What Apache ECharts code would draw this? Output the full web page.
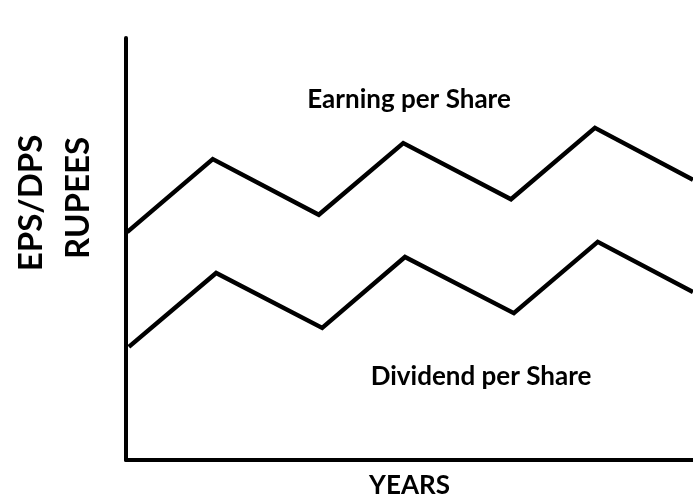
<!DOCTYPE html>
<html>
<head>
<meta charset="utf-8">
<title>EPS / DPS over the years</title>
<script src="https://cdn.jsdelivr.net/npm/echarts@6/dist/echarts.min.js"></script>
<style>
  html, body { margin: 0; padding: 0; background: #ffffff; }
  #chart { width: 693px; height: 500px; }
</style>
</head>
<body>
<div id="chart"></div>
<script>
// Position of each year along the time axis (0 = first year, 100 = last shown)
const epsYears = [0.2, 15.3, 34.0, 48.9, 67.9, 82.7, 100];
const dpsYears = [0.5, 15.9, 34.6, 49.2, 68.4, 83.2, 100];

// Earning per share and dividend per share, in rupees (relative scale)
const epsValues = [54.0, 71.3, 58.1, 75.1, 61.8, 78.7, 66.4];
const dpsValues = [26.8, 44.3, 31.3, 48.1, 34.8, 51.7, 39.8];

// Text drawn on the chart
const seriesNames = ['Earning per Share', 'Dividend per Share'];
const yAxisTitle = ['EPS/DPS', 'RUPEES'];
const xAxisTitle = 'YEARS';

const FONT = 'Lato, "Open Sans", sans-serif';

function pairs(xs, ys) {
  return xs.map((x, i) => [x, ys[i]]);
}

const lineStyle = { color: '#000000', width: 4.5, join: 'miter', cap: 'butt' };

const chart = echarts.init(document.getElementById('chart'), null, { renderer: 'canvas' });

chart.setOption({
  backgroundColor: '#ffffff',
  animation: false,
  grid: { left: 126, right: 0, top: 38, bottom: 40, containLabel: false, outerBoundsMode: 'none' },
  xAxis: {
    type: 'value',
    min: 0,
    max: 100,
    name: xAxisTitle,
    nameLocation: 'middle',
    nameGap: 13,
    nameTextStyle: { color: '#000000', fontFamily: FONT, fontWeight: 'bold', fontSize: 26, verticalAlign: 'top' },
    axisLine: { show: true, onZero: false, lineStyle: { color: '#000000', width: 4 } },
    axisTick: { show: false },
    axisLabel: { show: false },
    splitLine: { show: false }
  },
  yAxis: {
    type: 'value',
    min: 0,
    max: 100,
    axisLine: { show: true, onZero: false, lineStyle: { color: '#000000', width: 4 } },
    axisTick: { show: false },
    axisLabel: { show: false },
    splitLine: { show: false }
  },
  series: [
    {
      name: seriesNames[0],
      type: 'line',
      data: pairs(epsYears, epsValues),
      symbol: 'none',
      smooth: false,
      clip: true,
      lineStyle: lineStyle
    },
    {
      name: seriesNames[1],
      type: 'line',
      data: pairs(dpsYears, dpsValues),
      symbol: 'none',
      smooth: false,
      clip: true,
      lineStyle: lineStyle
    }
  ],
  graphic: [
    {
      type: 'text', x: 409, y: 100,
      style: { text: seriesNames[0], fill: '#000000', font: 'bold 26px ' + FONT, align: 'center', verticalAlign: 'middle' }
    },
    {
      type: 'text', x: 481, y: 377,
      style: { text: seriesNames[1], fill: '#000000', font: 'bold 26px ' + FONT, align: 'center', verticalAlign: 'middle' }
    },
    {
      type: 'text', x: 31, y: 203, rotation: Math.PI / 2,
      style: { text: yAxisTitle[0], fill: '#000000', font: 'bold 33px ' + FONT, align: 'center', verticalAlign: 'middle' }
    },
    {
      type: 'text', x: 78, y: 198, rotation: Math.PI / 2,
      style: { text: yAxisTitle[1], fill: '#000000', font: 'bold 33px ' + FONT, align: 'center', verticalAlign: 'middle' }
    }
  ]
});
</script>
</body>
</html>
